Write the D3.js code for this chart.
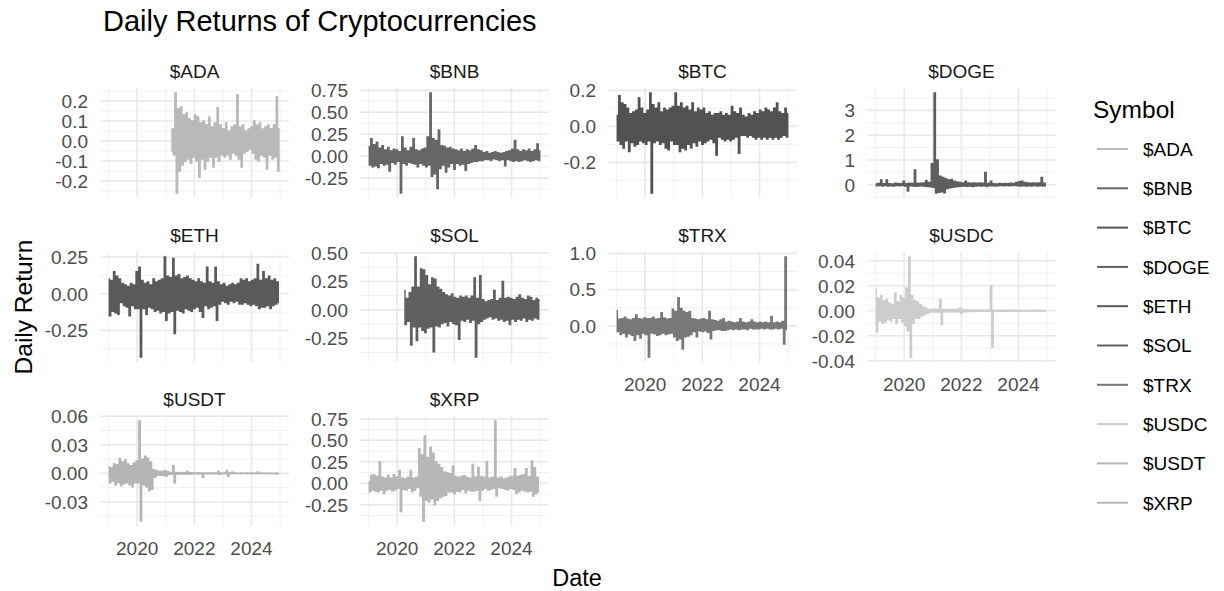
<!DOCTYPE html>
<html>
<head>
<meta charset="utf-8">
<script src="https://cdn.jsdelivr.net/npm/d3@7"></script>
<style>
  body { margin: 0; background: #fff; }
  svg { display: block; font-family: "Liberation Sans", Arial, sans-serif; }
</style>
</head>
<body>
<script>
// facet order as in facet_wrap(ncol = 4)
var symbols = ["$ADA", "$BNB", "$BTC", "$DOGE", "$ETH", "$SOL", "$TRX", "$USDC", "$USDT", "$XRP"];
var lineColors = ["#b9b9b9", "#666666", "#525252", "#5e5e5e", "#5a5a5a", "#606060", "#787878", "#cdcdcd", "#b5b5b5", "#b7b7b7"];
var startDates = ["2021-03-12", "2019-01-01", "2019-01-01", "2019-01-01", "2019-01-01",
                  "2020-04-01", "2019-01-01", "2019-01-01", "2019-01-01", "2019-01-01"];
var stepDays = 18;

// returns, one value every stepDays
var adaReturns = [-0.05,0.06,-0.07,0.24,-0.26,0.16,-0.15,0.17,-0.12,0.13,-0.1,0.14,-0.09,0.11,-0.11,0.1,-0.08,0.13,-0.1,0.12,
  -0.18,0.09,-0.09,0.1,-0.14,0.08,-0.1,0.12,-0.08,0.07,-0.13,0.09,-0.08,0.166,-0.1,0.08,-0.07,0.06,-0.08,0.09,
  -0.07,0.05,-0.09,0.07,-0.06,0.08,-0.07,0.23,-0.09,0.07,-0.13,0.08,-0.06,0.05,-0.05,0.06,-0.04,0.07,-0.06,0.1,
  -0.09,0.08,-0.1,0.09,-0.07,0.06,-0.08,0.07,-0.14,0.08,-0.07,0.06,-0.09,0.08,-0.08,0.22,-0.15,0.06];
var bnbReturns = [0.11,-0.1,0.2,-0.12,0.13,-0.11,0.16,-0.13,0.09,-0.08,0.12,-0.1,0.07,-0.09,0.1,-0.17,0.06,-0.07,0.08,-0.09,
  0.07,-0.06,0.05,-0.42,0.22,-0.08,0.09,-0.1,0.06,-0.07,0.1,-0.08,0.2,-0.09,0.07,-0.12,0.06,-0.08,0.08,-0.1,
  0.09,-0.12,0.22,-0.1,0.72,-0.23,0.2,-0.2,0.18,-0.37,0.3,-0.14,0.12,-0.1,0.11,-0.18,0.09,-0.12,0.1,-0.08,0.08,
  -0.15,0.07,-0.08,0.06,-0.1,0.08,-0.09,0.05,-0.16,0.07,-0.08,0.06,-0.07,0.08,-0.06,0.12,-0.06,0.07,-0.05,0.06,
  -0.05,0.04,-0.04,0.05,-0.04,0.03,-0.05,0.04,-0.03,0.05,-0.04,0.04,-0.05,0.03,-0.04,0.04,-0.11,0.05,-0.04,0.06,
  -0.05,0.08,-0.06,0.18,-0.05,0.07,-0.06,0.05,-0.05,0.07,-0.04,0.06,-0.05,0.08,-0.06,0.05,-0.05,0.07,-0.04,0.14,-0.05,0.06];
var btcReturns = [0.06,-0.08,0.17,-0.1,0.13,-0.12,0.12,-0.08,0.1,-0.14,0.07,-0.09,0.08,-0.11,0.09,-0.1,0.157,-0.08,0.1,-0.09,0.07,
  -0.1,0.09,-0.08,0.185,-0.37,0.12,-0.09,0.1,-0.08,0.13,-0.1,0.08,-0.09,0.1,-0.12,0.09,-0.13,0.1,-0.08,0.11,-0.1,
  0.185,-0.1,0.11,-0.14,0.13,-0.12,0.1,-0.13,0.11,-0.1,0.09,-0.12,0.13,-0.09,0.08,-0.11,0.1,-0.08,0.09,-0.1,0.1,
  -0.09,0.07,-0.08,0.08,-0.07,0.06,-0.09,0.07,-0.16,0.07,-0.06,0.08,-0.07,0.06,-0.08,0.07,-0.07,0.06,-0.08,0.11,
  -0.07,0.08,-0.06,0.07,-0.15,0.1,-0.05,0.06,-0.05,0.05,-0.06,0.07,-0.05,0.06,-0.06,0.08,-0.07,0.07,-0.06,0.09,
  -0.07,0.08,-0.06,0.1,-0.07,0.09,-0.06,0.08,-0.07,0.1,-0.06,0.13,-0.07,0.08,-0.06,0.07,-0.05,0.1,-0.06,0.07];
var dogeReturns = [0.03,-0.04,0.05,-0.03,0.2,-0.05,0.04,-0.03,0.2,-0.05,0.04,-0.04,0.03,-0.05,0.06,-0.03,0.05,-0.04,0.04,-0.03,
  0.15,-0.05,0.04,-0.25,0.06,-0.04,0.05,-0.05,0.6,-0.06,0.05,-0.05,0.06,-0.04,0.08,-0.06,0.18,-0.07,0.1,-0.08,
  0.85,-0.1,3.7,-0.33,1.0,-0.3,0.35,-0.28,0.3,-0.32,0.25,-0.15,0.2,-0.12,0.22,-0.1,0.15,-0.08,0.12,-0.07,
  0.1,-0.06,0.08,-0.05,0.15,-0.06,0.07,-0.05,0.06,-0.07,0.08,-0.05,0.06,-0.04,0.07,-0.05,0.06,-0.04,0.5,-0.06,
  0.05,-0.04,0.15,-0.04,0.04,-0.05,0.03,-0.04,0.05,-0.03,0.04,-0.04,0.05,-0.03,0.04,-0.04,0.06,-0.03,0.05,-0.03,
  0.1,-0.04,0.13,-0.05,0.15,-0.04,0.1,-0.05,0.08,-0.04,0.06,-0.05,0.07,-0.03,0.06,-0.05,0.08,-0.04,0.3,-0.05,0.06,-0.04];
var ethReturns = [0.1,-0.15,0.09,-0.12,0.15,-0.13,0.12,-0.14,0.1,-0.06,0.07,-0.08,0.06,-0.09,0.05,-0.15,0.07,-0.08,0.06,-0.1,
  0.15,-0.1,0.18,-0.43,0.09,-0.1,0.07,-0.14,0.08,-0.09,0.06,-0.1,0.1,-0.12,0.08,-0.11,0.09,-0.13,0.1,-0.12,
  0.25,-0.18,0.12,-0.13,0.11,-0.12,0.24,-0.27,0.12,-0.11,0.13,-0.12,0.1,-0.13,0.11,-0.1,0.12,-0.11,0.1,-0.12,
  0.09,-0.1,0.08,-0.09,0.1,-0.12,0.08,-0.16,0.07,-0.08,0.18,-0.1,0.08,-0.09,0.07,-0.08,0.18,-0.18,0.08,-0.07,
  0.06,-0.05,0.07,-0.06,0.05,-0.07,0.06,-0.05,0.07,-0.06,0.06,-0.05,0.07,-0.07,0.1,-0.07,0.09,-0.06,0.1,-0.07,
  0.08,-0.08,0.09,-0.07,0.1,-0.08,0.2,-0.1,0.09,-0.09,0.15,-0.09,0.1,-0.08,0.12,-0.1,0.09,-0.08,0.1,-0.07,0.08,-0.06];
var solReturns = [0.17,-0.13,0.1,-0.1,0.15,-0.31,0.2,-0.15,0.465,
  -0.27,0.2,-0.15,0.36,-0.18,0.35,-0.2,0.3,-0.16,0.22,
  -0.15,0.28,-0.37,0.27,-0.14,0.2,-0.15,0.18,-0.12,
  0.15,-0.11,0.13,-0.14,0.12,-0.1,0.14,-0.12,0.11,-0.13,
  0.1,-0.26,0.12,-0.09,0.11,-0.1,0.12,-0.08,0.1,-0.11,
  0.12,-0.09,0.28,-0.415,0.1,-0.12,0.3,-0.1,0.09,-0.08,
  0.07,-0.07,0.08,-0.06,0.09,-0.08,0.17,-0.07,0.08,-0.09,
  0.1,-0.08,0.25,-0.1,0.1,-0.09,0.11,-0.13,0.1,
  -0.08,0.09,-0.1,0.11,-0.08,0.13,-0.09,0.1,-0.07,0.09,
  -0.1,0.12,-0.08,0.11,-0.09,0.08,-0.07,0.1,-0.08,0.09];
var trxReturns = [0.21,-0.08,0.09,-0.12,0.1,-0.1,0.12,-0.15,0.09,-0.11,0.08,-0.13,0.1,-0.2,0.15,-0.12,0.1,-0.17,0.09,-0.1,
  0.11,-0.12,0.1,-0.43,0.1,-0.1,0.12,-0.11,0.09,-0.13,0.1,-0.12,0.18,-0.1,0.11,-0.12,0.09,-0.11,0.1,-0.1,
  0.23,-0.15,0.2,-0.2,0.39,-0.18,0.24,-0.32,0.2,-0.15,0.18,-0.14,0.2,-0.12,0.1,-0.08,0.09,-0.15,0.08,-0.07,
  0.09,-0.08,0.1,-0.07,0.08,-0.09,0.2,-0.18,0.08,-0.06,0.07,-0.05,0.06,-0.05,0.08,-0.06,0.1,-0.06,0.05,-0.05,
  0.06,-0.04,0.05,-0.05,0.04,-0.04,0.05,-0.05,0.1,-0.04,0.05,-0.04,0.04,-0.05,0.05,-0.03,0.08,-0.04,0.05,-0.04,
  0.04,-0.04,0.05,-0.03,0.04,-0.04,0.05,-0.03,0.04,-0.04,0.13,-0.04,0.04,-0.03,0.05,-0.04,0.04,-0.03,0.06,-0.25,0.95,-0.05];
var usdcReturns = [0.017,-0.017,0.01,-0.008,0.012,-0.01,0.008,-0.009,0.009,-0.007,0.006,-0.008,0.005,-0.006,0.014,-0.01,0.007,-0.006,0.012,-0.009,
  0.01,-0.012,0.018,-0.016,0.043,-0.037,0.012,-0.01,0.008,-0.006,0.007,-0.006,0.005,-0.004,0.003,-0.003,0.002,-0.002,0.001,-0.001,
  0.001,-0.001,0.0015,-0.001,0.001,-0.001,0.009,-0.011,0.001,-0.001,0.001,-0.0008,0.0008,-0.001,0.001,-0.0008,0.0008,-0.001,0.001,-0.001,
  0.002,-0.002,0.001,-0.0008,0.0008,-0.0008,0.0006,-0.0006,0.0007,-0.0006,0.0005,-0.0005,0.0006,-0.0005,0.0005,-0.0005,0.0006,-0.0004,0.0005,-0.0005,
  0.0005,-0.0004,0.02,-0.029,0.0005,-0.0004,0.0004,-0.0005,0.0004,-0.0004,0.0005,-0.0004,0.0004,-0.0004,0.0005,-0.0004,0.0004,-0.0003,0.0004,-0.0004,
  0.0004,-0.0003,0.0004,-0.0004,0.0003,-0.0003,0.0004,-0.0003,0.0003,-0.0004,0.0003,-0.0003,0.0004,-0.0003,0.0003,-0.0003,0.0004,-0.0003,0.0003,-0.0003,0.0003,-0.0003];
var usdtReturns = [0.007,-0.01,0.006,-0.008,0.01,-0.012,0.009,-0.01,0.0157,-0.013,0.012,-0.011,0.014,-0.01,0.01,-0.012,0.008,-0.014,0.011,-0.01,
  0.013,-0.01,0.055,-0.05,0.015,-0.012,0.018,-0.014,0.016,-0.018,0.012,-0.0167,0.004,-0.004,0.003,-0.002,0.002,-0.002,0.002,-0.002,
  0.003,-0.003,0.002,-0.001,0.001,-0.001,0.008,-0.01,0.001,-0.001,0.0008,-0.0008,0.001,-0.0007,0.0006,-0.0006,0.002,-0.001,0.0006,-0.0006,
  0.0006,-0.0005,0.0005,-0.0005,0.0006,-0.0005,0.0004,-0.004,0.0005,-0.0005,0.0004,-0.0004,0.0005,-0.0004,0.0004,-0.0004,0.0005,-0.0004,0.002,-0.001,
  0.0004,-0.0004,0.0004,-0.0004,0.003,-0.003,0.0004,-0.0004,0.0015,-0.0003,0.0004,-0.0003,0.0003,-0.0003,0.0004,-0.0003,0.0003,-0.0003,0.0004,-0.0003,
  0.0003,-0.0003,0.0004,-0.0003,0.0003,-0.0003,0.0015,-0.0003,0.0003,-0.0003,0.0004,-0.0003,0.0003,-0.0003,0.0003,-0.0004,0.0003,-0.0003,0.0003,-0.0008,0.0003,-0.0003];
var xrpReturns = [0.02,-0.1,0.09,-0.08,0.1,-0.09,0.08,-0.1,0.25,-0.08,0.07,-0.12,0.06,-0.08,0.09,-0.07,0.06,-0.09,0.1,-0.08,
  0.07,-0.06,0.15,-0.33,0.06,-0.07,0.05,-0.08,0.07,-0.06,0.15,-0.1,0.06,-0.08,0.07,-0.05,0.4,-0.15,0.33,-0.44,
  0.55,-0.2,0.3,-0.22,0.42,-0.18,0.35,-0.25,0.25,-0.2,0.22,-0.17,0.18,-0.15,0.13,-0.14,0.12,-0.1,0.11,-0.1,
  0.2,-0.12,0.08,-0.09,0.07,-0.1,0.08,-0.07,0.09,-0.11,0.07,-0.08,0.06,-0.09,0.22,-0.09,0.07,-0.08,0.18,-0.2,
  0.08,-0.08,0.07,-0.06,0.25,-0.08,0.06,-0.07,0.07,-0.06,0.725,-0.15,0.06,-0.05,0.07,-0.06,0.05,-0.07,0.06,-0.08,
  0.07,-0.06,0.08,-0.07,0.17,-0.12,0.08,-0.1,0.09,-0.08,0.1,-0.09,0.17,-0.1,0.08,-0.09,0.26,-0.15,0.18,-0.12,0.07,-0.1];

var returnsBySymbol = [adaReturns, bnbReturns, btcReturns, dogeReturns, ethReturns,
                       solReturns, trxReturns, usdcReturns, usdtReturns, xrpReturns];

// y breaks per facet (free y scales)
var yTickLabels = [
  ["-0.2", "-0.1", "0.0", "0.1", "0.2"],
  ["-0.25", "0.00", "0.25", "0.50", "0.75"],
  ["-0.2", "0.0", "0.2"],
  ["0", "1", "2", "3"],
  ["-0.25", "0.00", "0.25"],
  ["-0.25", "0.00", "0.25", "0.50"],
  ["0.0", "0.5", "1.0"],
  ["-0.04", "-0.02", "0.00", "0.02", "0.04"],
  ["-0.03", "0.00", "0.03", "0.06"],
  ["-0.25", "0.00", "0.25", "0.50", "0.75"]
];
var xMajorYears = [2020, 2022, 2024];
var xMinorYears = [2019, 2021, 2023, 2025];

var width = 1224, height = 591;
var colLeft = [100, 360, 608, 867], rowTop = [88, 252, 416];
var panelW = 189, panelH = 110;

var svg = d3.select("body").append("svg")
    .attr("width", width)
    .attr("height", height);

var parse = d3.timeParse("%Y-%m-%d");
var series = returnsBySymbol.map(function(vals, k) {
  var t0 = parse(startDates[k]);
  return vals.map(function(v, i) {
    return { date: d3.timeDay.offset(t0, i * stepDays), value: v };
  });
});

function expand(ext) {
  var p = (ext[1] - ext[0]) * 0.05;
  return [ext[0] - p, ext[1] + p];
}

var dExt = d3.extent(d3.merge(series), function(d) { return d.date; });
var dPad = (dExt[1] - dExt[0]) * 0.05;
var x = d3.scaleTime()
    .domain([new Date(+dExt[0] - dPad), new Date(+dExt[1] + dPad)])
    .range([0, panelW]);

series.forEach(function(data, k) {
  var col = k % 4, row = Math.floor(k / 4);
  var g = svg.append("g")
      .attr("transform", "translate(" + colLeft[col] + "," + rowTop[row] + ")");

  var y = d3.scaleLinear()
      .domain(expand(d3.extent(data, function(d) { return d.value; })))
      .range([panelH, 0]);
  var dom = y.domain();

  var ticks = yTickLabels[k].map(Number);
  var step = ticks[1] - ticks[0];
  var minors = [];
  for (var i = -1; i < ticks.length; i++) {
    var m = ticks[0] + step * (i + 0.5);
    if (m >= dom[0] && m <= dom[1]) minors.push(m);
  }

  // grid
  g.selectAll(".ymin").data(minors).enter().append("line")
      .attr("x1", 0).attr("x2", panelW)
      .attr("y1", y).attr("y2", y)
      .attr("stroke", "#efefef").attr("stroke-width", 0.9);
  g.selectAll(".xmin").data(xMinorYears).enter().append("line")
      .attr("x1", function(d) { return x(new Date(d, 0, 1)); })
      .attr("x2", function(d) { return x(new Date(d, 0, 1)); })
      .attr("y1", 0).attr("y2", panelH)
      .attr("stroke", "#efefef").attr("stroke-width", 0.9);
  g.selectAll(".ymaj").data(ticks).enter().append("line")
      .attr("x1", 0).attr("x2", panelW)
      .attr("y1", y).attr("y2", y)
      .attr("stroke", "#e9e9e9").attr("stroke-width", 1.6);
  g.selectAll(".xmaj").data(xMajorYears).enter().append("line")
      .attr("x1", function(d) { return x(new Date(d, 0, 1)); })
      .attr("x2", function(d) { return x(new Date(d, 0, 1)); })
      .attr("y1", 0).attr("y2", panelH)
      .attr("stroke", "#e9e9e9").attr("stroke-width", 1.6);

  // the series: step interpolation so the dense daily band reads as filled
  g.append("path")
      .datum(data)
      .attr("fill", "none")
      .attr("stroke", lineColors[k])
      .attr("stroke-width", 1.4)
      .attr("d", d3.line()
        .curve(d3.curveStep)
        .x(function(d) { return x(d.date); })
        .y(function(d) { return y(d.value); }));

  // strip
  g.append("text")
      .attr("x", panelW / 2).attr("y", -10)
      .attr("text-anchor", "middle")
      .style("font-size", "19px").style("fill", "#1a1a1a")
      .text(symbols[k]);

  // y labels
  g.selectAll(".ylab").data(yTickLabels[k]).enter().append("text")
      .attr("x", -12)
      .attr("y", function(d) { return y(+d); })
      .attr("dy", "0.36em")
      .attr("text-anchor", "end")
      .style("font-size", "19px").style("fill", "#4d4d4d")
      .text(function(d) { return d; });

  // x labels only on facets with nothing below
  if (k >= 6) {
    g.selectAll(".xlab").data(xMajorYears).enter().append("text")
        .attr("x", function(d) { return x(new Date(d, 0, 1)); })
        .attr("y", panelH + 29)
        .attr("text-anchor", "middle")
        .style("font-size", "19px").style("fill", "#4d4d4d")
        .text(function(d) { return d; });
  }
});

svg.append("text")
    .attr("x", 103).attr("y", 31)
    .style("font-size", "29px")
    .text("Daily Returns of Cryptocurrencies");

svg.append("text")
    .attr("x", 577).attr("y", 586)
    .attr("text-anchor", "middle")
    .style("font-size", "23.5px")
    .text("Date");

svg.append("text")
    .attr("transform", "translate(32,307) rotate(-90)")
    .attr("text-anchor", "middle")
    .style("font-size", "24.5px")
    .text("Daily Return");

// legend
var legend = svg.append("g").attr("transform", "translate(1093,0)");
legend.append("text")
    .attr("x", 0).attr("y", 118)
    .style("font-size", "24.5px")
    .text("Symbol");
var keys = legend.selectAll(".key").data(symbols).enter().append("g")
    .attr("transform", function(d, i) { return "translate(0," + (149 + i * 39.3) + ")"; });
keys.append("line")
    .attr("x1", 4).attr("x2", 35)
    .attr("stroke", function(d, i) { return lineColors[i]; })
    .attr("stroke-width", 2);
keys.append("text")
    .attr("x", 50).attr("dy", "0.36em")
    .style("font-size", "19px")
    .text(function(d) { return d; });
</script>
</body>
</html>
